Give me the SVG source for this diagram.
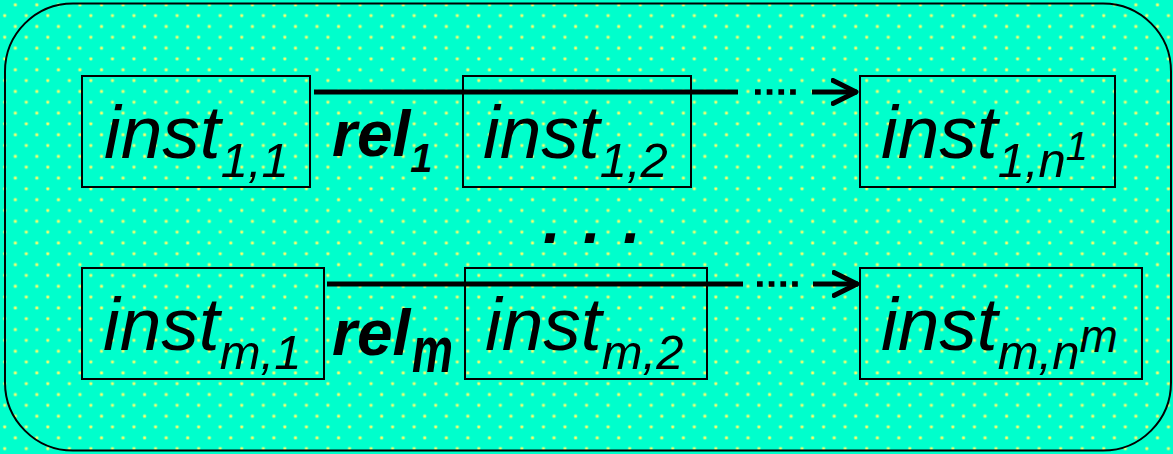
<svg xmlns="http://www.w3.org/2000/svg" width="1173" height="454" viewBox="0 0 1173 454">
<defs>
<pattern id="dots" patternUnits="userSpaceOnUse" width="21.55" height="21.65">
<rect width="21.55" height="21.65" fill="#00FFCC"/>
<circle cx="4.7" cy="15.6" r="2" fill="#99FF99" opacity="0.7"/>
<circle cx="4.7" cy="15.6" r="1.2" fill="#FFFF66"/>
<circle cx="15.3" cy="4.8" r="2" fill="#99FF99" opacity="0.7"/>
<circle cx="15.3" cy="4.8" r="1.2" fill="#FFFF66"/>
</pattern>
<marker id="chev" markerUnits="userSpaceOnUse" markerWidth="30" markerHeight="30" refX="26" refY="14" orient="auto">
<polyline points="2,2.5 25,14 2,25.5" fill="none" stroke="#000" stroke-width="5" stroke-linecap="round" stroke-linejoin="round"/>
</marker>
</defs>
<style>
.box{fill:none;stroke:#000;stroke-width:2}
.inst{font-family:"Liberation Sans",Arial,sans-serif;font-style:italic;font-size:75px;fill:#000}
.sub{font-size:49px}
.rel{font-family:"Liberation Sans",Arial,sans-serif;font-style:italic;font-weight:bold;font-size:64px;fill:#000}
.rsub{font-size:40px}
.ln{stroke:#000;stroke-width:5;fill:none}
.dot{stroke:#000;stroke-width:5.7;fill:none;stroke-dasharray:5.7 6}
</style>
<rect x="0" y="0" width="1173" height="454" fill="url(#dots)"/>
<rect x="5" y="3.5" width="1166" height="447" rx="68" ry="68" fill="none" stroke="#000" stroke-width="2"/>

<g id="n11">
<rect class="box" x="82" y="76" width="228" height="111"/>
<text class="inst" x="104" y="158">inst<tspan class="sub" dy="19">1,1</tspan></text>
</g>
<g id="n12">
<rect class="box" x="463" y="76" width="228" height="111"/>
<text class="inst" x="483" y="158">inst<tspan class="sub" dy="19">1,2</tspan></text>
</g>
<g id="n1n">
<rect class="box" x="860" y="76" width="255" height="111"/>
<text class="inst" x="881" y="158">inst<tspan class="sub" dy="19">1,n</tspan><tspan font-size="40" dy="-17">1</tspan></text>
</g>
<g id="nm1">
<rect class="box" x="82" y="268" width="242" height="111"/>
<text class="inst" x="103" y="350">inst<tspan class="sub" dy="19">m,1</tspan></text>
</g>
<g id="nm2">
<rect class="box" x="465" y="268" width="242" height="111"/>
<text class="inst" x="485" y="350">inst<tspan class="sub" dy="19">m,2</tspan></text>
</g>
<g id="nmn">
<rect class="box" x="860" y="268" width="282" height="111"/>
<text class="inst" x="881" y="350">inst<tspan class="sub" dy="19">m,n</tspan><tspan font-size="46" dy="-17">m</tspan></text>
</g>

<g id="connectors">
<line class="ln" x1="314" y1="92" x2="738" y2="92"/>
<line class="dot" x1="755" y1="92" x2="797" y2="92"/>
<line class="ln" x1="812" y1="92" x2="857" y2="92" marker-end="url(#chev)"/>
<line class="ln" x1="327" y1="284" x2="743" y2="284"/>
<line class="dot" x1="757" y1="284" x2="799" y2="284"/>
<line class="ln" x1="813" y1="284" x2="858" y2="284" marker-end="url(#chev)"/>
</g>

<g id="labels">
<text class="rel" x="332" y="156">rel<tspan class="rsub" dy="16">1</tspan></text>
<text class="rel" x="332" y="355">rel</text>
<text class="rel" transform="translate(412,372) scale(0.72,1)" x="0" y="0" font-size="56">m</text>
<text class="rel" x="543 583 623" y="243" font-size="250">...</text>
</g>
</svg>
